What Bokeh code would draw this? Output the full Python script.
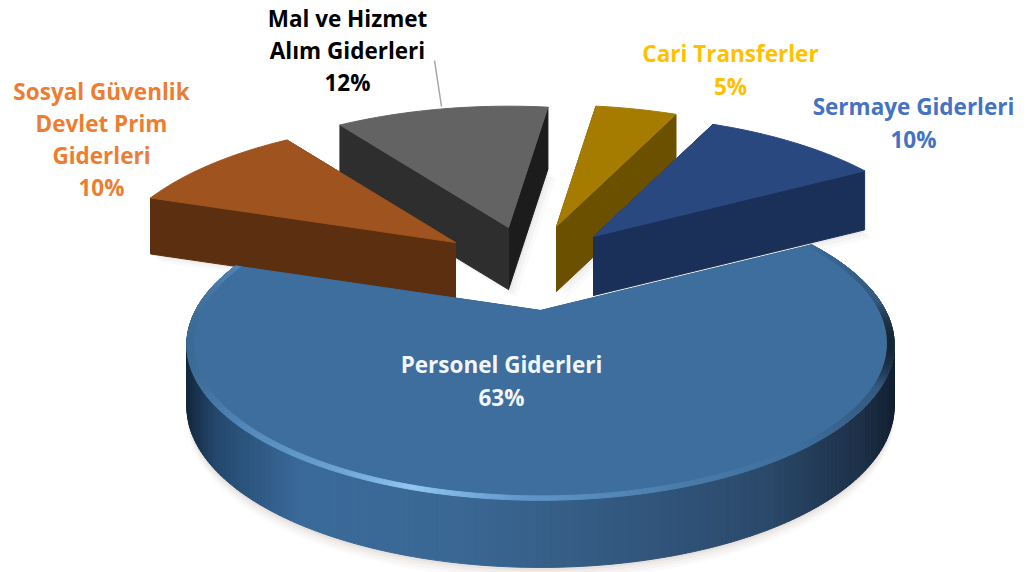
import math
from bokeh.plotting import figure
from bokeh.models import Range1d
from bokeh.embed import file_html
from bokeh.resources import INLINE
from bokeh.core.properties import value as bk_value

# ---- data (clockwise order of the pie) ----
categories = ["Cari Transferler", "Sermaye Giderleri", "Personel Giderleri",
              "Sosyal Güvenlik Devlet Prim Giderleri", "Mal ve Hizmet Alım Giderleri"]
# shares; each rounds to its printed label
values = [4.6, 10.0, 63.4, 10.0, 12.0]
label_lines = [["Cari Transferler", "5%"],
               ["Sermaye Giderleri", "10%"],
               ["Personel Giderleri", "63%"],
               ["Sosyal Güvenlik", "Devlet Prim", "Giderleri", "10%"],
               ["Mal ve Hizmet", "Alım Giderleri", "12%"]]

# ---- styling / layout ----
first_angle = 8.0
apex_px = [(556, 226), (593, 236), (540, 310), (455, 242), (508, 227)]
depth_px = [65, 59, 60, 56, 62]
top_col = ["#a67c00", "#2a4880", "#3e6e9d", "#9f531e", "#636363"]
wall_col = ["#6b5000", "#1b3058", "#2c5078", "#5c2f10", "#2e2e2e"]
wall2_col = ["#6b5000", "#1b3058", "#2c5078", "#5c2f10", "#1c1c1c"]
label_col = ["#ffc000", "#4472c4", "#f2f6fa", "#ed7d31", "#000000"]
label_x = [730, 913, 501, 101, 347]
label_y = [53, 106, 364, 91, 18]
line_step = [33, 33, 33, 32, 32]
draw_order = [4, 0, 3, 1, 2]
RX, RY, K = 345.0, 148.0, 0.22
FONT = "Open Sans"

WALL_STOPS = [(185, "#13263c"), (215, "#24486e"), (300, "#3a6a9a"), (450, "#3a6894"),
              (620, "#33587f"), (760, "#2b4a6c"), (860, "#1d3048"), (895, "#121f30")]
RIM_STOPS = [(185, "#3b6995"), (240, "#5488ba"), (340, "#6fa6d6"), (410, "#93c7f0"),
             (520, "#5f97cb"), (680, "#4a7cab"), (800, "#3e6e9d"), (880, "#34597f"), (895, "#14202e")]


def mix(stops, x):
    def rgb(h):
        return [int(h[i:i + 2], 16) for i in (1, 3, 5)]
    if x <= stops[0][0]:
        return stops[0][1]
    for (a, ca), (b, cb) in zip(stops, stops[1:]):
        if x <= b:
            t = (x - a) / (b - a)
            c = [round(u + (v - u) * t) for u, v in zip(rgb(ca), rgb(cb))]
            return "#%02x%02x%02x" % tuple(c)
    return stops[-1][1]


def project(apex, theta, r=1.0):
    """Perspective projection of a point of the pie's disc to screen pixels."""
    t = math.radians(theta)
    u, v = r * math.sin(t), r * math.cos(t)
    s = 1.0 / (1.0 + K * v)
    return apex[0] + RX * u * s, apex[1] - RY * v * s, v


def drop(base, v):
    return base * (1 - 0.12 * min(v, 0))


p = figure(width=1028, height=572, x_range=Range1d(0, 1028), y_range=Range1d(572, 0),
           toolbar_location=None, output_backend="svg", min_border=0)
p.axis.visible = False
p.grid.visible = False
p.outline_line_color = None
p.background_fill_color = "#ffffff"
p.border_fill_color = "#ffffff"

# slice angle spans from the values
total = sum(values)
spans = []
ang = first_angle
for val in values:
    sweep = 360.0 * val / total
    spans.append((ang, ang + sweep))
    ang += sweep


def arc(i, r=1.0, step=1.0):
    a, b = spans[i]
    n = max(2, int((b - a) / step) + 1)
    return [project(apex_px[i], a + (b - a) * j / (n - 1), r) for j in range(n)]


# soft shadow under the big slice
pts = arc(2)
for off, alpha in [(12, 0.03), (9, 0.04), (6, 0.05), (3, 0.07)]:
    xs = [x for x, y, v in pts]
    ys = [y + drop(depth_px[2], v) + off for x, y, v in pts]
    p.patch(xs, ys, fill_color="#7a6a55", fill_alpha=alpha, line_color=None)

# leader line of the "Mal ve Hizmet" label
p.line([434, 441], [60, 106], line_color="#a6a6a6", line_width=1.5)

for i in draw_order:
    apex = apex_px[i]
    d = depth_px[i]
    a, b = spans[i]
    outer = arc(i)
    # soft shadows of the small slices
    if i != 2:
        sx = [apex[0]] + [q[0] for q in outer]
        sy = [apex[1] + d] + [q[1] + drop(d, q[2]) for q in outer]
        for off, alpha in [(8, 0.03), (5, 0.04), (2, 0.06)]:
            p.patch([x + off for x in sx], [y + off for y in sy],
                    fill_color="#555555", fill_alpha=alpha, line_color=None)
    # radial walls, farthest first
    ends = sorted([(project(apex, a), wall_col[i]), (project(apex, b), wall2_col[i])],
                  key=lambda e: -e[0][2])
    for (ex, ey, ev), col in ends:
        p.patch([apex[0], ex, ex, apex[0]],
                [apex[1], ey, ey + drop(d, ev), apex[1] + d],
                fill_color=col, line_color=col)
    # outer wall as strips
    if i == 2:
        xs, ys, cols = [], [], []
        for (x0, y0, v0), (x1, y1, v1) in zip(outer, outer[1:]):
            xs.append([x0, x1, x1, x0])
            ys.append([y0, y1, y1 + drop(d, v1), y0 + drop(d, v0)])
            cols.append(mix(WALL_STOPS, (x0 + x1) / 2))
        p.patches(xs, ys, fill_color=cols, line_color=cols)
    # top face
    p.patch([apex[0]] + [q[0] for q in outer], [apex[1]] + [q[1] for q in outer],
            fill_color=top_col[i], line_color=top_col[i])
    # bevelled rim of the big slice
    if i == 2:
        inner = arc(i, 0.982)
        xs, ys, cols = [], [], []
        for (x0, y0, _), (x1, y1, _), (x2, y2, _), (x3, y3, _) in zip(outer, outer[1:], inner[1:], inner):
            xs.append([x0, x1, x2, x3])
            ys.append([y0, y1, y2, y3])
            cols.append(mix(RIM_STOPS, (x0 + x1) / 2))
        p.patches(xs, ys, fill_color=cols, line_color=cols)

# labels
tx, ty, tt, tc = [], [], [], []
for i, lines in enumerate(label_lines):
    for j, line in enumerate(lines):
        tx.append(label_x[i])
        ty.append(label_y[i] + j * line_step[i])
        tt.append(line)
        tc.append(label_col[i])
p.text(tx, ty, text=tt, text_color=tc, text_font=bk_value(FONT), text_font_style="bold",
       text_font_size="22.5px", text_align="center", text_baseline="middle")

open("out.html", "w").write(file_html(p, INLINE))
